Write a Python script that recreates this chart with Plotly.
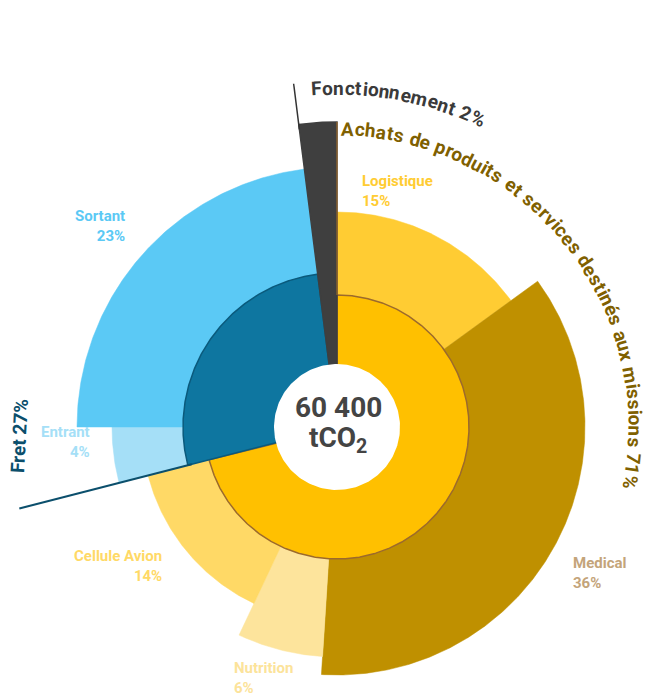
import numpy as np
import plotly.graph_objects as go

# --- data ---
groups = ["Achats de produits et services destinés aux missions", "Fret", "Fonctionnement"]
group_pct = [71, 27, 2]

categories = ["Logistique", "Medical", "Nutrition", "Cellule Avion", "Entrant", "Sortant"]
category_pct = [15, 36, 6, 14, 4, 23]

total_value = "60 400"
total_unit = "tCO<sub>2</sub>"

# --- style ---
CX, CY = 337, 427          # centre of the wheel in screen px (from top-left)
HOLE = 63
group_radius = [132, 154, 305]
group_colors = ["#FFC000", "#0E76A0", "#3F3F3F"]
group_edges = ["#9C6A2C", "#0A5A7C", "#3F3F3F"]
group_text_colors = ["#7F6000", "#0B4F6C", "#3A3A3A"]

cat_radius = [215, 248, 230, 195, 225, 260]
cat_colors = ["#FFCC33", "#BF9000", "#FDE49C", "#FFD966", "#A5DFF7", "#5BC9F5"]
cat_label_colors = ["#FFCC33", "#C4A47A", "#FCE39A", "#FFD966", "#A5DFF7", "#5BC9F5"]
# label anchor (screen x, screen y, side)
cat_label_pos = [(360, 191, "left"), (571, 573, "left"), (232, 678, "left"),
                 (164, 566, "right"), (92, 442, "right"), (127, 226, "right")]

FONT = "Roboto, 'Noto Sans', sans-serif"


def sector(a0, a1, r0, r1):
    n = max(int(abs(a1 - a0) * 2), 3)
    t = np.radians(np.linspace(a0, a1, n))
    xo, yo = r1 * np.sin(t), r1 * np.cos(t)
    xi, yi = r0 * np.sin(t[::-1]), r0 * np.cos(t[::-1])
    return np.concatenate([xo, xi, xo[:1]]), np.concatenate([yo, yi, yo[:1]])


def polar_xy(r, a):
    t = np.radians(a)
    return r * np.sin(t), r * np.cos(t)


def char_w(c):
    if c in "ijl":
        return 0.26
    if c in "frt":
        return 0.37
    if c == " ":
        return 0.28
    if c == "m":
        return 0.86
    if c in "w%":
        return 0.74
    if c in "ACDO":
        return 0.66
    if c == "F":
        return 0.56
    return 0.55


fig = go.Figure()

# outer ring
start = 0.0
for pct, r, col in zip(category_pct, cat_radius, cat_colors):
    a0, a1 = start * 3.6, (start + pct) * 3.6
    x, y = sector(a0, a1, 0, r)
    fig.add_trace(go.Scatter(x=x, y=y, fill="toself", fillcolor=col, mode="lines",
                             line=dict(color=col, width=0.5), hoverinfo="skip"))
    start += pct

# inner ring
start = 0.0
group_angles = []
for pct, r, col, edge in zip(group_pct, group_radius, group_colors, group_edges):
    a0, a1 = start * 3.6, (start + pct) * 3.6
    group_angles.append(a0)
    x, y = sector(a0, a1, HOLE - 4, r)
    fig.add_trace(go.Scatter(x=x, y=y, fill="toself", fillcolor=col, mode="lines",
                             line=dict(color=edge, width=1.5), hoverinfo="skip"))
    start += pct

# white centre
t = np.radians(np.linspace(0, 360, 200))
fig.add_trace(go.Scatter(x=HOLE * np.sin(t), y=HOLE * np.cos(t), fill="toself",
                         fillcolor="white", mode="lines", line=dict(color="white", width=0),
                         hoverinfo="skip"))

# leader lines at the start of each group
leader = [(132, 305, 1.2), (150, 328, 2), (300, 346, 1.5)]
leader_colors = ["#9C6A2C", "#0B4F6C", "#333333"]
for a, (r0, r1, w), col in zip(group_angles, leader, leader_colors):
    x0, y0 = polar_xy(r0, a)
    x1, y1 = polar_xy(r1, a)
    fig.add_trace(go.Scatter(x=[x0, x1], y=[y0, y1], mode="lines",
                             line=dict(color=col, width=w), hoverinfo="skip"))


def arc_text(text, r, a_start, a_end, size, color):
    w = np.array([char_w(c) for c in text])
    centers = np.cumsum(w) - w / 2
    frac = (centers - centers[0]) / (centers[-1] - centers[0])
    angs = a_start + frac * (a_end - a_start)
    for c, a in zip(text, angs):
        if c == " ":
            continue
        x, y = polar_xy(r, a)
        fig.add_annotation(x=x, y=y, text=c, showarrow=False, textangle=a,
                           xanchor="center", yanchor="middle",
                           font=dict(family=FONT, size=size, color=color, weight="bold"))


arc_text(f"{groups[0]} {group_pct[0]}%", 298, 2.1, 100.6, 19, group_text_colors[0])
arc_text(f"{groups[2]} {group_pct[2]}%", 339, -3.4, 24.5, 19, group_text_colors[2])

fig.add_annotation(x=19 - CX, y=CY - 436, text=f"{groups[1]} {group_pct[1]}%",
                   showarrow=False, textangle=-87, xanchor="center", yanchor="middle",
                   font=dict(family=FONT, size=19, color=group_text_colors[1], weight="bold"))

# category labels
for name, pct, col, (sx, sy, side) in zip(categories, category_pct, cat_label_colors, cat_label_pos):
    fig.add_annotation(x=sx - CX, y=CY - sy, text=f"{name}<br>{pct}%", showarrow=False,
                       xanchor=side, yanchor="middle", align=side,
                       font=dict(family=FONT, size=15, color=col, weight="bold"))

# centre total
fig.add_annotation(x=1, y=CY - 407, text=total_value, showarrow=False,
                   xanchor="center", yanchor="middle", borderpad=0,
                   font=dict(family=FONT, size=28, color="#444444", weight="bold"))
fig.add_annotation(x=1, y=CY - 439, text=total_unit, showarrow=False,
                   xanchor="center", yanchor="middle", borderpad=0,
                   font=dict(family=FONT, size=28, color="#444444", weight="bold"))

fig.update_layout(
    width=646, height=697,
    margin=dict(l=0, r=0, t=0, b=0),
    paper_bgcolor="white", plot_bgcolor="white",
    showlegend=False,
    xaxis=dict(range=[-CX, 646 - CX], visible=False, fixedrange=True),
    yaxis=dict(range=[CY - 697, CY], visible=False, fixedrange=True),
)

fig.write_html("out.html", config={"displayModeBar": False},
               post_script="document.body.style.margin='0px';")
